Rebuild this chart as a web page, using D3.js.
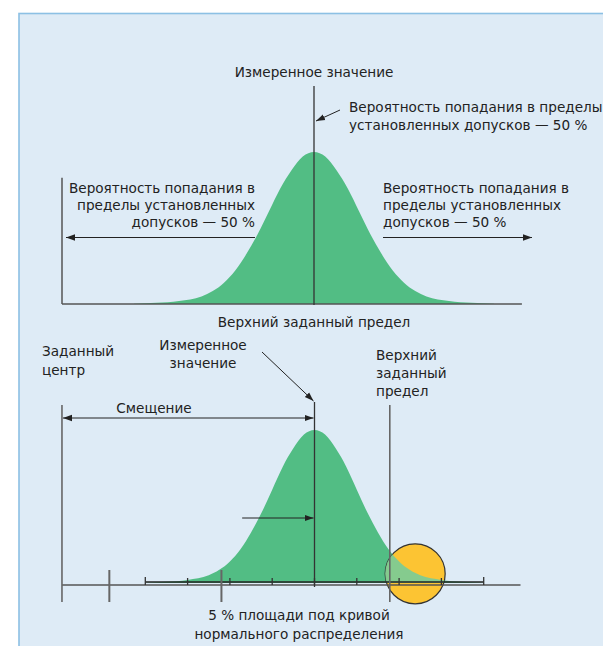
<!DOCTYPE html>
<html>
<head>
<meta charset="utf-8">
<script src="https://cdn.jsdelivr.net/npm/d3@7"></script>
<style>
  body { margin: 0; background: #fff; }
  text { font-family: "DejaVu Sans", sans-serif; font-size: 13.6px; fill: #222; }
</style>
</head>
<body>
<script>
// curve shape, relative height read at sigma offsets
const sigmaSteps = [-4, -3.5, -3, -2.5, -2, -1.75, -1.5, -1.25, -1, -0.75, -0.5, -0.25, 0,
                    0.25, 0.5, 0.75, 1, 1.25, 1.5, 1.75, 2, 2.5, 3, 3.5, 4];
const relHeight  = [0.002, 0.008, 0.02, 0.05, 0.14, 0.22, 0.33, 0.46, 0.61, 0.76, 0.88, 0.97, 1,
                    0.97, 0.88, 0.76, 0.61, 0.46, 0.33, 0.22, 0.14, 0.05, 0.02, 0.008, 0.002];

// bottom panel scale marks (sigma units)
const scaleTicks = [-4, -3, -2, -1, 0, 1, 2, 3, 4];
const bigTicks = [-4.85, -2.2];
const specCenter = -5.97;
const upperLimit = 1.78;
const measured = 0;

const curve = sigmaSteps.map((s, i) => ({ s, h: relHeight[i] }));

const width = 603, height = 646;

const svg = d3.select("body").append("svg")
  .attr("width", width)
  .attr("height", height);

const defs = svg.append("defs");
function marker(id, orient) {
  defs.append("marker")
    .attr("id", id)
    .attr("viewBox", "0 0 10 10")
    .attr("refX", 10).attr("refY", 5)
    .attr("markerWidth", 9).attr("markerHeight", 9)
    .attr("markerUnits", "userSpaceOnUse")
    .attr("orient", orient)
    .append("path")
    .attr("d", "M0,1.5 L10,5 L0,8.5 Z")
    .attr("fill", "#222");
}
marker("arr", "auto");
marker("arrStart", "auto-start-reverse");

// panel background
svg.append("rect")
  .attr("x", 19).attr("y", 13.5)
  .attr("width", 620).attr("height", 660)
  .attr("fill", "#deebf6")
  .attr("stroke", "#8cc0e4")
  .attr("stroke-width", 1.6);

// ---------- top panel ----------
const x1 = d3.scaleLinear().domain([0, 1]).range([314, 359]);
const y1 = d3.scaleLinear().domain([0, 1]).range([304, 152]);

const area1 = d3.area()
  .x(d => x1(d.s)).y0(y1(0)).y1(d => y1(d.h))
  .curve(d3.curveMonotoneX);

svg.append("path").datum(curve).attr("d", area1).attr("fill", "#52bd84");

const topG = svg.append("g");
// axes
topG.append("line")
  .attr("x1", x1(-5.6)).attr("x2", x1(4.62))
  .attr("y1", y1(0)).attr("y2", y1(0))
  .attr("stroke", "#555").attr("stroke-width", 1.5);
topG.append("line")
  .attr("x1", x1(-5.6)).attr("x2", x1(-5.6))
  .attr("y1", y1(0)).attr("y2", y1(0.83))
  .attr("stroke", "#555").attr("stroke-width", 1.5);
// measured value line
topG.append("line")
  .attr("x1", x1(0)).attr("x2", x1(0))
  .attr("y1", 86).attr("y2", y1(0) + 1)
  .attr("stroke", "#333").attr("stroke-width", 1.3);

topG.append("text").attr("x", x1(0)).attr("y", 77)
  .attr("text-anchor", "middle").text("Измеренное значение");

topG.append("text").attr("x", 349).attr("y", 112)
  .text("Вероятность попадания в пределы");
topG.append("text").attr("x", 349).attr("y", 130)
  .text("установленных допусков — 50 %");
topG.append("line")
  .attr("x1", 340).attr("y1", 110).attr("x2", x1(0) + 2).attr("y2", 121)
  .attr("stroke", "#222").attr("stroke-width", 1)
  .attr("marker-end", "url(#arr)");

const leftLines = ["Вероятность попадания в", "пределы установленных", "допусков — 50 %"];
leftLines.forEach((t, i) => {
  topG.append("text").attr("x", 255).attr("y", 193 + i * 17)
    .attr("text-anchor", "end").text(t);
  topG.append("text").attr("x", 383).attr("y", 193 + i * 17).text(t);
});
topG.append("line")
  .attr("x1", 255).attr("x2", 66).attr("y1", 237.5).attr("y2", 237.5)
  .attr("stroke", "#222").attr("stroke-width", 1)
  .attr("marker-end", "url(#arr)");
topG.append("line")
  .attr("x1", 383).attr("x2", 532).attr("y1", 237.5).attr("y2", 237.5)
  .attr("stroke", "#222").attr("stroke-width", 1)
  .attr("marker-end", "url(#arr)");

topG.append("text").attr("x", x1(0)).attr("y", 327)
  .attr("text-anchor", "middle").text("Верхний заданный предел");

// ---------- bottom panel ----------
const x2 = d3.scaleLinear().domain([0, 1]).range([314.5, 356.8]);
const y2 = d3.scaleLinear().domain([0, 1]).range([583, 430]);

const area2 = d3.area()
  .x(d => x2(d.s)).y0(y2(0)).y1(d => y2(d.h))
  .curve(d3.curveMonotoneX);

svg.append("path").datum(curve).attr("d", area2).attr("fill", "#52bd84");

const circ = { s: 2.38, h: 0.06, r: 30 };
defs.append("clipPath").attr("id", "circClip")
  .append("circle")
  .attr("cx", x2(circ.s)).attr("cy", y2(circ.h)).attr("r", circ.r);

svg.append("circle")
  .attr("cx", x2(circ.s)).attr("cy", y2(circ.h)).attr("r", circ.r)
  .attr("fill", "#fcc433").attr("stroke", "#333").attr("stroke-width", 1.2);
svg.append("path").datum(curve).attr("d", area2)
  .attr("fill", "#78cc98").attr("opacity", 0.9)
  .attr("clip-path", "url(#circClip)");

const botG = svg.append("g");
// main axis
botG.append("line")
  .attr("x1", x2(specCenter)).attr("x2", x2(4.87))
  .attr("y1", 585).attr("y2", 585)
  .attr("stroke", "#555").attr("stroke-width", 1.5);
// scale bar
botG.append("line")
  .attr("x1", x2(-4)).attr("x2", x2(4))
  .attr("y1", 582).attr("y2", 582)
  .attr("stroke", "#222").attr("stroke-width", 1.3);
botG.selectAll(".stick").data(scaleTicks).enter().append("line")
  .attr("x1", d => x2(d)).attr("x2", d => x2(d))
  .attr("y1", d => (Math.abs(d) === 4 ? 577 : 578)).attr("y2", 585)
  .attr("stroke", "#333").attr("stroke-width", 1.3);
botG.selectAll(".btick").data(bigTicks).enter().append("line")
  .attr("x1", d => x2(d)).attr("x2", d => x2(d))
  .attr("y1", 570).attr("y2", 602)
  .attr("stroke", "#666").attr("stroke-width", 2);
// spec centre line and upper limit line
botG.append("line")
  .attr("x1", x2(specCenter)).attr("x2", x2(specCenter))
  .attr("y1", 405).attr("y2", 602)
  .attr("stroke", "#666").attr("stroke-width", 1.6);
botG.append("line")
  .attr("x1", x2(upperLimit)).attr("x2", x2(upperLimit))
  .attr("y1", 405).attr("y2", 602)
  .attr("stroke", "#666").attr("stroke-width", 1.6);
// measured value line
botG.append("line")
  .attr("x1", x2(measured)).attr("x2", x2(measured))
  .attr("y1", 402).attr("y2", 587)
  .attr("stroke", "#333").attr("stroke-width", 1.3);

// offset dimension
botG.append("line")
  .attr("x1", x2(specCenter) + 1).attr("x2", x2(measured) - 1)
  .attr("y1", 418).attr("y2", 418)
  .attr("stroke", "#222").attr("stroke-width", 1)
  .attr("marker-start", "url(#arrStart)")
  .attr("marker-end", "url(#arr)");
botG.append("text").attr("x", 154).attr("y", 413)
  .attr("text-anchor", "middle").text("Смещение");

// inner arrow
botG.append("line")
  .attr("x1", x2(-1.71)).attr("x2", x2(measured) - 1)
  .attr("y1", 518).attr("y2", 518)
  .attr("stroke", "#222").attr("stroke-width", 1)
  .attr("marker-end", "url(#arr)");

// pointer to measured value
botG.append("line")
  .attr("x1", 262).attr("y1", 352).attr("x2", x2(measured) - 1).attr("y2", 401)
  .attr("stroke", "#222").attr("stroke-width", 1)
  .attr("marker-end", "url(#arr)");

botG.append("text").attr("x", 42).attr("y", 356).text("Заданный");
botG.append("text").attr("x", 42).attr("y", 375).text("центр");
botG.append("text").attr("x", 203).attr("y", 350).attr("text-anchor", "middle").text("Измеренное");
botG.append("text").attr("x", 203).attr("y", 368).attr("text-anchor", "middle").text("значение");
["Верхний", "заданный", "предел"].forEach((t, i) => {
  botG.append("text").attr("x", 376).attr("y", 360 + i * 18).text(t);
});
botG.append("text").attr("x", 299).attr("y", 620)
  .attr("text-anchor", "middle").text("5 % площади под кривой");
botG.append("text").attr("x", 299).attr("y", 639)
  .attr("text-anchor", "middle").text("нормального распределения");
</script>
</body>
</html>
